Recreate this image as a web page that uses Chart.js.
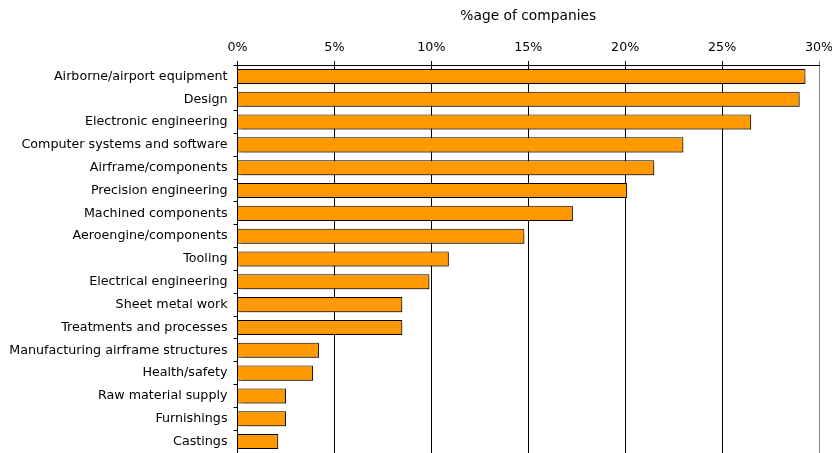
<!DOCTYPE html>
<html>
<head>
<meta charset="utf-8">
<script src="https://cdn.jsdelivr.net/npm/chart.js@4"></script>
<style>
  html, body { margin: 0; padding: 0; background: #fff; overflow: hidden; }
  canvas { display: block; }
</style>
</head>
<body>
<canvas id="chart" width="832" height="453"></canvas>
<script>
const categories = [
  'Airborne/airport equipment',
  'Design',
  'Electronic engineering',
  'Computer systems and software',
  'Airframe/components',
  'Precision engineering',
  'Machined components',
  'Aeroengine/components',
  'Tooling',
  'Electrical engineering',
  'Sheet metal work',
  'Treatments and processes',
  'Manufacturing airframe structures',
  'Health/safety',
  'Raw material supply',
  'Furnishings',
  'Castings'
];
const shares = [29.3, 29.0, 26.5, 23.0, 21.5, 20.1, 17.3, 14.8, 10.9, 9.9, 8.5, 8.5, 4.2, 3.9, 2.5, 2.5, 2.1];
const axisTitle = '%age of companies';
const axisMin = 0;
const axisMax = 30;
const axisStep = 5;

const font = {family: '"DejaVu Sans", Verdana, sans-serif', size: 12.7};

// soft grey shadow under the bars, like the original export
const barShadow = {
  id: 'barShadow',
  beforeDatasetsDraw(chart) {
    const ctx = chart.ctx;
    ctx.save();
    ctx.shadowColor = 'rgba(0,0,0,0.35)';
    ctx.shadowOffsetX = 2;
    ctx.shadowOffsetY = 2;
    ctx.shadowBlur = 1;
  },
  afterDatasetsDraw(chart) {
    chart.ctx.restore();
  }
};

function noEdgePadding(scale) {
  scale.paddingLeft = 0;
  scale.paddingRight = 0;
  scale.paddingTop = 0;
  scale.paddingBottom = 0;
}

new Chart(document.getElementById('chart').getContext('2d'), {
  type: 'bar',
  data: {
    labels: categories,
    datasets: [{
      data: shares,
      backgroundColor: '#FF9900',
      borderColor: '#000',
      borderWidth: 1,
      barPercentage: 0.66,
      categoryPercentage: 1
    }]
  },
  options: {
    indexAxis: 'y',
    responsive: false,
    animation: false,
    layout: {padding: {top: 0, right: 13, bottom: 0, left: 0}},
    plugins: {legend: {display: false}, tooltip: {enabled: false}},
    scales: {
      x: {
        position: 'top',
        min: axisMin,
        max: axisMax,
        ticks: {
          stepSize: axisStep,
          color: '#000',
          font: font,
          padding: 6,
          callback: v => v + '%'
        },
        grid: {
          color: c => c.tick && c.tick.value === axisMax ? '#888' : '#000',
          lineWidth: 1,
          tickLength: 4
        },
        border: {display: true, color: '#000'},
        title: {
          display: true,
          text: axisTitle,
          color: '#000',
          font: {family: font.family, size: 13.8},
          padding: {top: 8, bottom: 0}
        },
        afterFit(scale) {
          scale.height = 65;
          noEdgePadding(scale);
        }
      },
      y: {
        offset: true,
        ticks: {color: '#000', font: font, padding: 6, autoSkip: false},
        grid: {
          offset: true,
          drawOnChartArea: false,
          color: '#000',
          tickLength: 4
        },
        border: {display: true, color: '#000'},
        afterFit(scale) {
          scale.width = 237.5;
          noEdgePadding(scale);
        }
      }
    }
  },
  plugins: [barShadow]
});
</script>
</body>
</html>
